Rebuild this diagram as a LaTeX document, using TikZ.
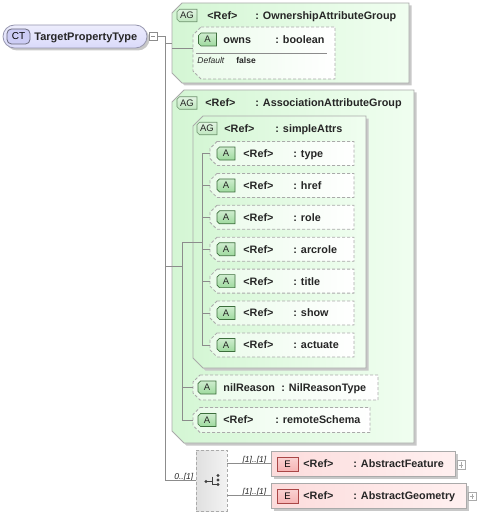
\documentclass[tikz,border=0pt]{standalone}
\usepackage{fontspec}
\setmainfont{Liberation Sans}
\usepackage{tikz}
\usetikzlibrary{shapes.misc}
\usetikzlibrary{shadows}
\definecolor{lineGray}{RGB}{140,140,140}
\definecolor{borderGray}{RGB}{170,170,170}
\definecolor{shadowGray}{RGB}{200,200,200}
\definecolor{grpLeft}{RGB}{212,246,212}
\definecolor{grpRight}{RGB}{240,254,240}
\definecolor{attrLeft}{RGB}{234,251,234}
\definecolor{badgeGreen}{RGB}{158,218,158}
\definecolor{badgeGreenLine}{RGB}{60,110,60}
\definecolor{ctFill}{RGB}{218,218,250}
\definecolor{ctLine}{RGB}{150,150,175}
\definecolor{ctBadgeFill}{RGB}{205,205,245}
\definecolor{elemLeft}{RGB}{252,220,220}
\definecolor{elemRight}{RGB}{255,240,240}
\definecolor{elemBadge}{RGB}{246,180,180}
\definecolor{elemBadgeLine}{RGB}{170,70,70}
\definecolor{choiceFill}{RGB}{224,224,224}
\newcommand{\labelfont}{\fontsize{10.8}{12}\selectfont\bfseries}
\newcommand{\badgefont}{\fontsize{9.5}{11}\selectfont}
\newcommand{\smallfont}{\fontsize{8.5}{10}\selectfont}
% chamfered outline round a named area
\newcommand{\chamferbox}[3]{\path[#1] ([xshift=#3]#2.north west) -- (#2.north east) -- (#2.south east)
  -- ([xshift=#3]#2.south west) -- ([yshift=#3]#2.south west) -- ([yshift=-#3]#2.north west) -- cycle;}
% badge: kind (ag or a), name, position, text
\newcommand{\badge}[4]{\node[area, #1size] (#2) at #3 {};
  \chamferbox{#1paint}{#2}{2.5pt}
  \node[area, font=\badgefont, text=black!85] (#2-text) at (#2) {#4};}
\tikzstyle{grpshadow}=[drop shadow={shadow xshift=2.5pt, shadow yshift=-2.5pt, fill=shadowGray, opacity=1}]
\tikzstyle{area}=[rectangle, inner sep=0, outer sep=0]
\tikzstyle{grpbox}=[draw=borderGray, left color=grpLeft, right color=grpRight, grpshadow]
\tikzstyle{attrbox}=[draw=borderGray, dash pattern=on 3pt off 2pt, left color=attrLeft, right color=white]
\tikzstyle{elembox}=[rectangle, draw=borderGray, left color=elemLeft, right color=elemRight, inner sep=0, grpshadow]
\tikzstyle{agsize}=[minimum width=20pt, minimum height=12.5pt]
\tikzstyle{agpaint}=[draw=badgeGreenLine!75!white, line width=0.7pt, top color=white!70!badgeGreen, bottom color=white!35!badgeGreen]
\tikzstyle{asize}=[minimum width=18pt, minimum height=13pt]
\tikzstyle{apaint}=[draw=badgeGreenLine, line width=0.7pt, top color=white!50!badgeGreen, bottom color=badgeGreen]
\tikzstyle{ebadge}=[rectangle, draw=elemBadgeLine, top color=white!40!elemBadge, bottom color=elemBadge, inner sep=0, font=\badgefont, minimum width=21pt, minimum height=14pt]
\tikzstyle{txt}=[anchor=west, inner sep=0, font=\labelfont, text height=7.8pt, text depth=0pt, text=black!85]
\tikzstyle{smalltxt}=[txt, font=\smallfont, text height=6pt]
\tikzstyle{toggle}=[rectangle, draw=lineGray, fill=white, inner sep=0, minimum width=8pt, minimum height=8.5pt, line width=0.6pt]
\tikzstyle{connector}=[draw=lineGray, line width=0.8pt]
\begin{document}
\begin{tikzpicture}[x=1pt, y=-1pt, line width=0.8pt]
  \useasboundingbox (0,0) rectangle (477,516);
  % complex type
  \node[rounded rectangle, draw=ctLine, top color=white!50!ctFill, bottom color=ctFill, inner sep=0,
        minimum width=144pt, minimum height=23pt, grpshadow] (ct) at (75,36.5) {};
  \node[rectangle, rounded corners=4.5pt, draw=ctLine!70!black, fill=ctBadgeFill, inner sep=0,
        minimum width=23pt, minimum height=15pt, font=\fontsize{10}{12}\selectfont] (ctBadge) at (18.5,36.5) {CT};
  \node[txt, font=\fontsize{11}{13}\selectfont\bfseries] (ctName) at (34,36.5) {TargetPropertyType};
  \node[toggle] (ctMinus) at (153,36.5) {};
  \draw[lineGray, line width=0.6pt] ([xshift=2pt]ctMinus.west) -- ([xshift=-2pt]ctMinus.east);
  \coordinate (trunk) at (165,36.5);
  \coordinate (assocBus) at (182,0);
  \coordinate (attrBus) at (202,0);

  % ownership group
  \node[area, minimum width=237pt, minimum height=80pt] (ownGrp) at (290.5,43) {};
  \chamferbox{grpbox}{ownGrp}{10pt}
  \badge{ag}{ownBadge}{(187,15.5)}{AG}
  \node[txt] (ownRef) at (207,15.5) {<Ref>};
  \node[txt] (ownType) at (255,15.5) {: OwnershipAttributeGroup};
  \node[area, minimum width=142pt, minimum height=52pt] (owns) at (264,53) {};
  \chamferbox{attrbox}{owns}{8pt}
  \badge{a}{ownsBadge}{(207.5,39.5)}{A}
  \node[txt] (ownsName) at (223,39.5) {owns};
  \node[txt] (ownsType) at (275,39.5) {: boolean};
  \draw[lineGray, line width=0.6pt] (196,53) -- (327,53);
  \node[smalltxt, font=\smallfont\itshape] (ownsDefault) at (197,61) {Default};
  \node[smalltxt, font=\smallfont\bfseries] (ownsValue) at (236,61) {false};

  % association group
  \node[area, minimum width=242pt, minimum height=353pt] (assocGrp) at (293,266.5) {};
  \chamferbox{grpbox}{assocGrp}{12pt}
  \badge{ag}{assocBadge}{(187,103)}{AG}
  \node[txt] (assocRef) at (205,103) {<Ref>};
  \node[txt] (assocType) at (255,103) {: AssociationAttributeGroup};
  \node[area, minimum width=173pt, minimum height=252pt] (simple) at (279.5,242) {};
  \chamferbox{grpbox}{simple}{10pt}
  \badge{ag}{simpleBadge}{(207,128.5)}{AG}
  \node[txt] (simpleRef) at (224,128.5) {<Ref>};
  \node[txt] (simpleType) at (275,128.5) {: simpleAttrs};
  \foreach \nm [count=\i from 0] in {type,href,role,arcrole,title,show,actuate} {
    \node[area, minimum width=144pt, minimum height=24pt] (attr-\nm) at (282,{153.5+31.9*\i}) {};
    \chamferbox{attrbox}{attr-\nm}{7pt}
    \badge{a}{badge-\nm}{(226,{153.5+31.9*\i})}{A}
    \node[txt] (ref-\nm) at (243,{153.5+31.9*\i}) {<Ref>};
    \node[txt] (type-\nm) at (293,{153.5+31.9*\i}) {: \nm};
    \draw[connector] (attrBus |- attr-\nm.west) -- (attr-\nm.west);
  }
  \node[area, minimum width=185pt, minimum height=25pt] (nilReason) at (285.5,387.5) {};
  \chamferbox{attrbox}{nilReason}{7pt}
  \badge{a}{nilBadge}{(207,387.5)}{A}
  \node[txt] (nilName) at (223,387.5) {nilReason};
  \node[txt] (nilType) at (281,387.5) {: NilReasonType};
  \node[area, minimum width=177pt, minimum height=25pt] (remote) at (281.5,420) {};
  \chamferbox{attrbox}{remote}{7pt}
  \badge{a}{remoteBadge}{(207,420)}{A}
  \node[txt] (remoteRef) at (223,420) {<Ref>};
  \node[txt] (remoteType) at (275,420) {: remoteSchema};

  % choice
  \node[rectangle, draw=borderGray, dash pattern=on 3pt off 2pt, left color=choiceFill, right color=choiceFill!40,
        inner sep=0, minimum width=31pt, minimum height=61pt] (choice) at (211.5,480.5) {};
  \fill[black!75] (206,481.5) circle (1.6pt) (218,475.5) circle (1.6pt) (218,480) circle (1.6pt) (218,484.5) circle (1.6pt);
  \draw[black!75, line width=0.7pt] (206,481.5) -- (212.5,481.5) (212.5,476.5) -- (212.5,484.5) -- (218,484.5);
  \node[smalltxt, font=\smallfont\itshape, anchor=south east, inner sep=1pt] (choiceMult) at ([xshift=-1pt]choice.west) {0..[1]};

  % elements
  \node[elembox, minimum width=184pt, minimum height=25pt] (feature) at (363,463.5) {};
  \node[ebadge] (featureBadge) at (287.5,464) {E};
  \node[txt] (featureRef) at (303,463.5) {<Ref>};
  \node[txt] (featureType) at (353,463.5) {: AbstractFeature};
  \node[toggle, draw=borderGray] (featurePlus) at (461,465) {};
  \node[elembox, minimum width=195pt, minimum height=25pt] (geometry) at (368.5,495.5) {};
  \node[ebadge] (geometryBadge) at (287.5,496) {E};
  \node[txt] (geometryRef) at (303,495.5) {<Ref>};
  \node[txt] (geometryType) at (353,495.5) {: AbstractGeometry};
  \node[toggle, draw=borderGray] (geometryPlus) at (472,496.5) {};
  \foreach \p in {featurePlus,geometryPlus}
    \draw[borderGray, line width=0.6pt] ([xshift=2pt]\p.west) -- ([xshift=-2pt]\p.east) ([yshift=-2pt]\p.north) -- ([yshift=2pt]\p.south);
  \node[smalltxt, font=\smallfont\itshape, anchor=south east, inner sep=1pt] (featureMult) at ([xshift=-3pt]feature.west) {[1]..[1]};
  \node[smalltxt, font=\smallfont\itshape, anchor=south east, inner sep=1pt] (geometryMult) at ([xshift=-3pt]geometry.west) {[1]..[1]};

  % connectors
  \draw[connector] (ctMinus.east) -- (trunk) -- (trunk |- choice.west) -- (choice.west);
  \draw[connector] (trunk |- ownGrp.west) -- (ownGrp.west);
  \draw[connector] ([yshift=4.5pt]owns.west -| ownGrp.west) -- ([yshift=4.5pt]owns.west);
  \draw[connector] (trunk |- assocGrp.west) -- (assocBus |- assocGrp.west);
  \draw[connector] (assocBus |- simple.west) -- (assocBus |- remote.west) -- (remote.west);
  \draw[connector] (assocBus |- nilReason.west) -- (nilReason.west);
  \draw[connector] (assocBus |- simple.west) -- (attrBus |- simple.west);
  \draw[connector] (attrBus |- attr-type.west) -- (attrBus |- attr-actuate.west);
  \draw[connector] (choice.east |- feature.west) -- (feature.west);
  \draw[connector] (choice.east |- geometry.west) -- (geometry.west);
\end{tikzpicture}
\end{document}
